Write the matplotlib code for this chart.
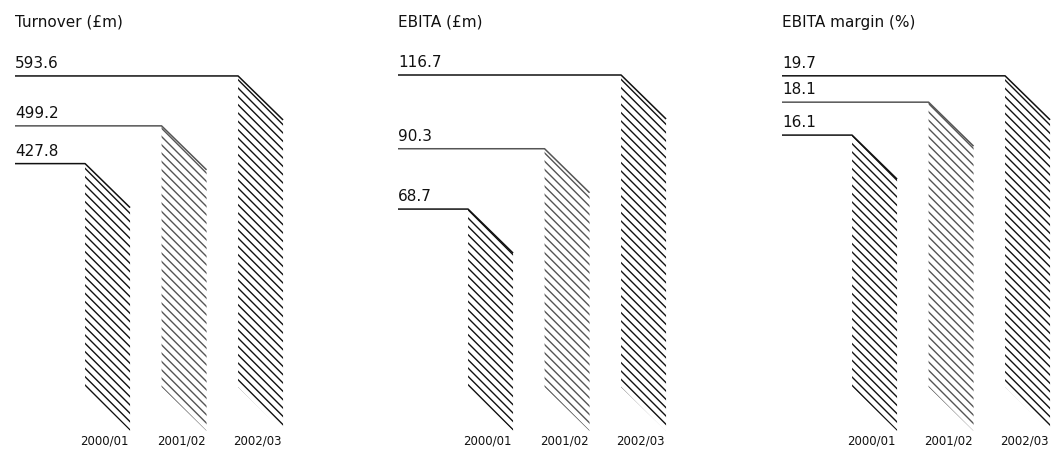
import matplotlib
matplotlib.use('Agg')
import matplotlib.pyplot as plt
from matplotlib.patches import Polygon

plt.rcParams['font.family'] = ['DejaVu Sans']
plt.rcParams['hatch.linewidth'] = 1.0

# data
years = ['2000/01', '2001/02', '2002/03']
titles = ['Turnover (£m)', 'EBITA (£m)', 'EBITA margin (%)']
turnover = [427.8, 499.2, 593.6]
ebita = [68.7, 90.3, 116.7]
margin = [16.1, 18.1, 19.7]
series = [turnover, ebita, margin]

# axis scales of each panel (bottom of bars, top of tallest bar)
ylims = [(5.3, 595.4), (5.0, 116.7), (0.8, 19.75)]

W, H = 1055, 449
fig = plt.figure(figsize=(W / 100, H / 100), dpi=100)

panel_x = [15, 398, 782]          # left edge of each panel, px
top_px, base_px = 75, 387         # axes top / bottom in px from the top
step_px = 76.5                    # distance between bars, px
x_left = -1.21                    # start of the value lines, category units
x_right = 2.4
bar_w = 45 / step_px
drop_px = 44                      # slant of the bar tops
colors = ['#111111', '#555555', '#111111']

for p, (vals, title, ylim) in enumerate(zip(series, titles, ylims)):
    ox = panel_x[p]
    ax = fig.add_axes([ox / W, (H - base_px) / H,
                       (x_right - x_left) * step_px / W, (base_px - top_px) / H])
    ax.set_xlim(x_left, x_right)
    ax.set_ylim(*ylim)
    ax.axis('off')

    per_px = (ylim[1] - ylim[0]) / (base_px - top_px)
    drop = drop_px * per_px
    floor = ylim[0]

    for i, v in enumerate(vals):
        xl, xr = i - bar_w / 2, i + bar_w / 2
        c = colors[i]
        poly = Polygon([(xl, floor), (xl, v), (xr, v - drop), (xr, floor - drop)],
                       closed=True, facecolor='none', edgecolor=c, linewidth=0,
                       hatch='\\' * 4, clip_on=False)
        ax.add_patch(poly)
        ax.plot([x_left, xl, xr], [v, v, v - drop], color=c, lw=1.1,
                clip_on=False, solid_capstyle='butt')
        ax.annotate(f'{v:.1f}', xy=(x_left, v), xytext=(0, 3.5),
                    textcoords='offset points', ha='left', va='bottom',
                    fontsize=11, color='#111111', annotation_clip=False)
        ax.annotate(years[i], xy=(i - 0.04, floor), xytext=(0, -39),
                    textcoords='offset points', ha='center', va='center',
                    fontsize=8.5, color='#111111', annotation_clip=False)

    fig.text(ox / W, 1 - 22 / H, title, ha='left', va='center',
             fontsize=11, color='#111111')

fig.savefig('out.png', dpi=100)
